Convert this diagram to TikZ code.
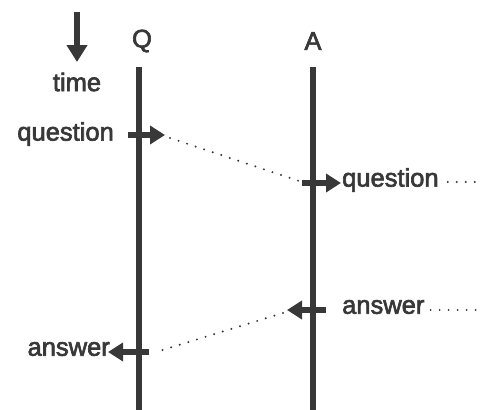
\documentclass[tikz,border=0pt]{standalone}
\usepackage{fontspec}
\setmainfont[FakeBold=2.5]{Liberation Sans}
\usetikzlibrary{arrows.meta,calc}
\definecolor{ink}{HTML}{383838}
\begin{document}
\begin{tikzpicture}[x=1pt,y=-1pt,
  lab/.style={font=\fontsize{25.5}{28}\selectfont, text=ink, inner sep=0pt},
  life/.style={draw=ink, line width=6.5pt},
  stub/.style={draw=ink, line width=6pt, -{Triangle[length=15pt,width=18pt]}},
  msg/.style={draw=ink, line width=2.2pt, dash pattern=on 0pt off 9pt, line cap=round}]
\useasboundingbox (0,0) rectangle (483,410);
% time arrow
\coordinate (t0) at (77,12);
\coordinate (t1) at (77,62);
\draw[draw=ink, line width=5.5pt, -{Triangle[length=17pt,width=20pt]}] (t0) -- (t1);
\node[lab] (time) at (77,82) {time};
% lifelines
\node[lab] (Q) at (142,41) {Q};
\node[lab] (A) at (313,41) {A};
\coordinate (qtop) at (139,67);
\coordinate (qbot) at (139,410);
\coordinate (atop) at (313,67);
\coordinate (abot) at (313,410);
\draw[life] (qtop) -- (qbot);
\draw[life] (atop) -- (abot);
% question at Q
\node[lab, anchor=east] (q1) at (114,134) {question};
\coordinate (q1s) at (128,135);
\coordinate (q1e) at (165,135);
\draw[stub] (q1s) -- (q1e);
% question at A
\coordinate (q2s) at (302,183);
\coordinate (q2e) at (341,183);
\draw[stub] (q2s) -- (q2e);
\node[lab, anchor=west] (q2) at (342,180) {question};
\coordinate (q2o) at (483,182);
\draw[msg] ($(q1e)+(5,3)$) -- ($(q2s)+(0,-1)$);
\draw[msg] ($(q2.east)+(9,2)$) -- (q2o);
% answer at A
\coordinate (a1s) at (326,310);
\coordinate (a1e) at (287,310);
\draw[stub] (a1s) -- (a1e);
\node[lab, anchor=west] (a1) at (342,307) {answer};
\coordinate (a1o) at (483,310);
\draw[msg] ($(a1.east)+(6,3)$) -- (a1o);
% answer at Q
\coordinate (a2s) at (149,352);
\coordinate (a2e) at (108,352);
\draw[stub] (a2s) -- (a2e);
\node[lab, anchor=east] (a2) at (110,349) {answer};
\draw[msg] ($(a1e)+(-4,3)$) -- ($(a2s)+(7,0)$);
\end{tikzpicture}
\end{document}
